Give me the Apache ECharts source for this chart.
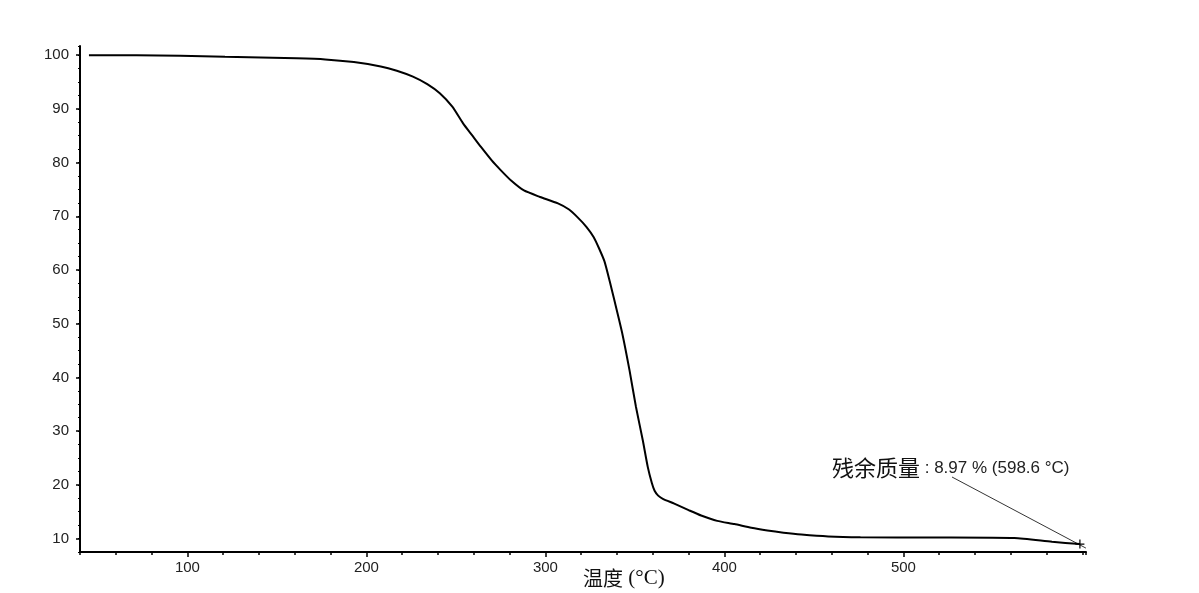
<!DOCTYPE html>
<html>
<head>
<meta charset="utf-8">
<script src="https://cdn.jsdelivr.net/npm/echarts@6/dist/echarts.min.js"></script>
<style>
html,body{margin:0;padding:0;background:#fff;}
#main{width:1199px;height:593px;}
</style>
</head>
<body>
<div id="main"></div>
<script>
// Temperature (°C)
var temps = [45, 96, 121, 161, 177, 193, 208, 217, 226, 234, 241, 248, 254, 259, 264, 270, 275, 281, 288, 297, 307, 313, 318, 323, 327, 330, 333, 336, 338.5, 343, 347, 350.6, 354.4, 357.2, 359.5, 361, 363, 365.6, 372, 380, 387, 396, 405.6, 415, 424, 433, 443, 458, 476, 517, 562, 583, 598.6];
// Mass (%)
var mass = [100, 99.9, 99.7, 99.4, 99.2, 98.7, 97.9, 97.1, 96.0, 94.6, 92.9, 90.4, 87.3, 85.1, 82.9, 80.4, 78.6, 76.6, 74.8, 73.6, 72.4, 71.3, 69.8, 68.0, 66.1, 64.0, 61.6, 57.8, 54.4, 48.1, 41.3, 34.5, 28.3, 23.3, 20.3, 18.9, 18.0, 17.4, 16.5, 15.3, 14.3, 13.3, 12.7, 12.0, 11.5, 11.1, 10.75, 10.4, 10.25, 10.2, 10.1, 9.4, 8.97];
var xMajorTicks = [100, 200, 300, 400, 500];
var yMajorTicks = [10, 20, 30, 40, 50, 60, 70, 80, 90, 100];
var xAxisTitleCJK = '温度';
var xAxisTitleUnit = ' (°C)';
var residueName = '残余质量';
var residueText = ' : 8.97 % (598.6 °C)';

var points = temps.map(function (t, i) { return [t, mass[i]]; });
var last = points[points.length - 1];

var chart = echarts.init(document.getElementById('main'));
var labelStyle = { color: '#222', fontSize: 15, fontFamily: '"Liberation Sans", Arial, sans-serif' };
var option = {
  animation: false,
  backgroundColor: '#fff',
  grid: { left: 80, right: 113, top: 46, bottom: 41 },
  xAxis: [
    {
      type: 'value', position: 'bottom', min: 40, max: 602, interval: 20,
      axisLine: { show: true, lineStyle: { color: '#000', width: 2 } },
      axisTick: { show: true, length: 3, lineStyle: { color: '#000', width: 1.5 } },
      axisLabel: { show: false },
      splitLine: { show: false }
    },
    {
      type: 'value', position: 'bottom', min: 40, max: 602,
      axisLine: { show: false },
      axisTick: { show: true, length: 5, customValues: xMajorTicks, lineStyle: { color: '#000', width: 1.5 } },
      axisLabel: Object.assign({ show: true, margin: 8, customValues: xMajorTicks }, labelStyle),
      splitLine: { show: false }
    }
  ],
  yAxis: [
    {
      type: 'value', position: 'left', min: 7.5, max: 101.7, interval: 2.5,
      axisLine: { show: true, lineStyle: { color: '#000', width: 2 } },
      axisTick: { show: true, length: 2, lineStyle: { color: '#000', width: 1.2 } },
      axisLabel: { show: false },
      splitLine: { show: false }
    },
    {
      type: 'value', position: 'left', min: 7.5, max: 101.7,
      axisLine: { show: false },
      axisTick: { show: true, length: 4, customValues: yMajorTicks, lineStyle: { color: '#000', width: 1.5 } },
      axisLabel: Object.assign({ show: true, margin: 11, customValues: yMajorTicks }, labelStyle),
      splitLine: { show: false }
    }
  ],
  series: [{
    type: 'line',
    data: points,
    xAxisIndex: 0,
    yAxisIndex: 0,
    showSymbol: false,
    smooth: 0.2,
    lineStyle: { color: '#000', width: 2 },
    markPoint: {
      silent: true,
      symbol: 'path://M0,5L10,5M5,0L5,10',
      symbolSize: 9,
      itemStyle: { color: 'none', borderColor: '#000', borderWidth: 1.2 },
      label: { show: false },
      data: [{ coord: last }]
    }
  }]
};
chart.setOption(option);

var p = chart.convertToPixel({ xAxisIndex: 0, yAxisIndex: 0 }, last);
var textX = 832, textY = 468;
chart.setOption({
  graphic: [
    {
      type: 'text', x: 583, y: 578,
      style: {
        text: '{a|' + xAxisTitleCJK + '}{b|' + xAxisTitleUnit + '}',
        verticalAlign: 'middle',
        rich: {
          a: { fontSize: 20, fontFamily: '"Noto Sans CJK SC", sans-serif', fill: '#111', verticalAlign: 'middle' },
          b: { fontSize: 21, fontFamily: '"Liberation Serif", "DejaVu Serif", serif', fill: '#111', verticalAlign: 'middle' }
        }
      }
    },
    {
      type: 'text', x: textX, y: textY,
      style: {
        text: '{a|' + residueName + '}{b|' + residueText + '}',
        verticalAlign: 'middle',
        rich: {
          a: { fontSize: 22, fontFamily: '"Noto Sans CJK SC", sans-serif', fill: '#111', verticalAlign: 'middle' },
          b: { fontSize: 17, fontFamily: '"Liberation Sans", Arial, sans-serif', fill: '#222', verticalAlign: 'middle' }
        }
      }
    },
    {
      type: 'line',
      shape: { x1: 952, y1: 477, x2: p[0] + 6, y2: p[1] + 4 },
      style: { stroke: '#000', lineWidth: 0.8 }
    }
  ]
});
</script>
</body>
</html>
